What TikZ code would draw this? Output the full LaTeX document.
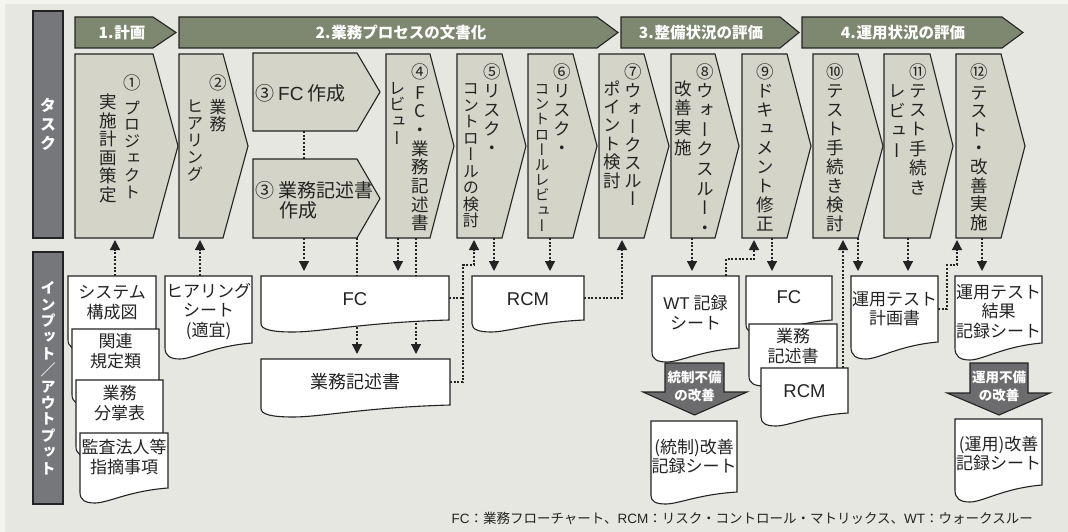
\documentclass[tikz,border=0pt]{standalone}
\usepackage{fontspec}
\setmainfont{Noto Sans CJK JP}
\newfontfamily\jpv[RawFeature=+vert]{Noto Sans CJK JP}
\newfontfamily\lat{Liberation Sans}
\usetikzlibrary{arrows.meta}

\definecolor{bgc}{RGB}{231,231,225}
\definecolor{chevfill}{RGB}{212,212,201}
\definecolor{hdrfill}{RGB}{126,136,112}
\definecolor{barfill}{RGB}{118,119,122}
\definecolor{blkfill}{RGB}{108,108,110}
\definecolor{ink}{RGB}{35,35,35}

\pgfdeclarelayer{back}
\pgfdeclarelayer{conn}
\pgfsetlayers{back,conn,main}

\tikzset{
  outl/.style={draw=ink, line width=1.1pt, line join=miter},
  chevstyle/.style={outl, fill=chevfill},
  docstyle/.style={outl, fill=white},
  hdrstyle/.style={outl, fill=hdrfill},
  barstyle/.style={outl, fill=barfill},
  blkstyle/.style={outl, fill=blkfill},
  box/.style={inner sep=0pt, outer sep=0pt, draw=none},
  doctext/.style={inner sep=0pt, align=center, text=ink, font=\fontsize{17}{19.5}\selectfont},
  vcol/.style={inner sep=0pt, anchor=north, align=center, text=ink},
  hdrtext/.style={text=white, font=\bfseries\fontsize{15.5}{18}\selectfont, inner sep=0pt},
  bartext/.style={barstyle, inner sep=0pt, align=center, text=white},
  blktext/.style={text=white, font=\bfseries\fontsize{13.5}{18}\selectfont, inner sep=0pt, align=center},
  circ/.style={inner sep=0pt, text=ink, font=\fontsize{17.5}{17.5}\selectfont},
  htext/.style={inner sep=0pt, text=ink, font=\fontsize{19}{20}\selectfont, align=left},
  conn/.style={draw=ink, line width=1.2pt, dash pattern=on 2pt off 1.7pt},
  arrd/.style={conn, -{Triangle[width=10pt,length=10pt]}, shorten >=5pt},
  arru/.style={conn, -{Triangle[width=10pt,length=10pt]}, shorten >=2pt},
}

% chevron task box: name L T R B tip
\newcommand\chev[6]{%
  \draw[chevstyle] (#2,#3) -- (#4,#3) -- (#6,{(#3+#5)/2}) -- (#4,#5) -- (#2,#5) -- cycle;
  \node[box, minimum width={#4-#2}, minimum height={#5-#3}, anchor=north west] (#1) at (#2,#3) {};
}
% document shape: name L T R B wave text-y text
\newcommand\docu[8]{%
  \draw[docstyle] (#2,#3) -- (#4,#3) -- (#4,#5)
    .. controls ({#2+0.55*(#4-#2)},{#5+0.2*#6}) and ({#2+0.32*(#4-#2)},{#5+#6}) .. ({#2+0.17*(#4-#2)},{#5+#6})
    .. controls ({#2+0.06*(#4-#2)},{#5+#6}) and (#2,{#5+0.8*#6}) .. (#2,{#5+0.3*#6}) -- cycle;
  \node[box, minimum width={#4-#2}, minimum height={#5-#3}, anchor=north west] (#1) at (#2,#3) {};
  \node[doctext] (#1-t) at ({(#2+#4)/2},#7) {#8};
}
% header arrow: name L R tip T B text-x text
\newcommand\hdr[8]{%
  \draw[hdrstyle] (#2,#5) -- (#3,#5) -- (#4,{(#5+#6)/2}) -- (#3,#6) -- (#2,#6) -- cycle;
  \node[hdrtext] (#1) at (#7,{(#5+#6)/2}) {#8};
}
% vertical column: name x ytop skip chars
\newcommand\vc[5]{%
  \pgfmathsetmacro\vcfs{min(17.5,#4-0.4)}%
  \node[vcol, font=\jpv\fontsize{\vcfs}{#4}\selectfont] (#1) at (#2,#3) {\rule{0pt}{.86em}#5};
}

\begin{document}
\begin{tikzpicture}[x=1pt, y=-1pt]
\useasboundingbox (0,0) rectangle (1068,532);
\begin{pgfonlayer}{back}
\fill[white!55!bgc] (0,0) rectangle (1068,532);
\fill[bgc] (5,4) rectangle (1068,532);
\end{pgfonlayer}

% left bars
\node[bartext, minimum width=30, minimum height=227, font=\jpv\bfseries\fontsize{16}{19}\selectfont] (taskbar) at (48,124.5) {タ\\ス\\ク};
\node[bartext, minimum width=30, minimum height=252, font=\jpv\bfseries\fontsize{15}{16.4}\selectfont] (iobar) at (48,378) {イ\\ン\\プ\\ッ\\ト\\／\\ア\\ウ\\ト\\プ\\ッ\\ト};

% headers
\hdr{h1}{75}{153}{176}{17}{48}{122}{1.\hspace{1pt}計画}
\hdr{h2}{179}{597}{618}{17}{48}{401}{2.\hspace{1pt}業務プロセスの文書化}
\hdr{h3}{621}{780}{799}{17}{48}{701}{3.\hspace{1pt}整備状況の評価}
\hdr{h4}{802}{1002}{1023}{17}{48}{903}{4.\hspace{1pt}運用状況の評価}

% task chevrons
\chev{t1}{75}{54}{153}{238}{178}
\chev{t2}{179}{54}{223}{238}{248}
\chev{t3a}{253}{53}{357}{131}{380}
\chev{t3b}{253}{159}{357}{238}{380}
\chev{t4}{386}{54}{430}{238}{454}
\chev{t5}{457}{54}{502}{238}{526}
\chev{t6}{528}{54}{573}{238}{597}
\chev{t7}{599}{54}{644}{238}{669}
\chev{t8}{671}{54}{715}{238}{739}
\chev{t9}{742}{54}{787}{238}{811}
\chev{t10}{813}{54}{858}{238}{883}
\chev{t11}{884}{54}{930}{238}{953}
\chev{t12}{956}{54}{1001}{238}{1025}

% task texts
\node[circ] (n1) at (132,83) {①};
\vc{v1r}{132}{99.8}{16.8}{プ\\ロ\\ジ\\ェ\\ク\\ト}
\vc{v1l}{108}{93.3}{18.6}{実\\施\\計\\画\\策\\定}
\node[circ] (n2) at (218,83) {②};
\vc{v2r}{218}{98.8}{17.2}{業\\務}
\vc{v2l}{195}{97.8}{17}{ヒ\\ア\\リ\\ン\\グ}
\node[htext, anchor=west] (n3a) at (255,93) {③\hspace{4pt}{\lat FC} 作成};
\node[htext, anchor=north west] (n3b) at (255,180.5) {\rule{0pt}{.86em}③\hspace{4pt}業務記述書\\\phantom{③}\hspace{5pt}作成};
\node[circ] (n4) at (420,72) {④};
\vc{v4r}{420}{83.8}{18.7}{F\\C\\・\\業\\務\\記\\述\\書}
\vc{v4l}{397}{79.8}{16.8}{レ\\ビ\\ュ\\ー}
\node[circ] (n5) at (492,72) {⑤};
\vc{v5r}{492}{81.8}{19}{リ\\ス\\ク\\・}
\vc{v5l}{471}{80.5}{16.5}{コ\\ン\\ト\\ロ\\ー\\ル\\の\\検\\討}
\node[circ] (n6) at (562,72) {⑥};
\vc{v6r}{562}{81.8}{19}{リ\\ス\\ク\\・}
\vc{v6l}{542}{81.5}{15.2}{コ\\ン\\ト\\ロ\\ー\\ル\\レ\\ビ\\ュ\\ー}
\node[circ] (n7) at (633,72) {⑦};
\vc{v7r}{633}{81.8}{18}{ウ\\ォ\\ー\\ク\\ス\\ル\\ー}
\vc{v7l}{612}{79.8}{18.4}{ポ\\イ\\ン\\ト\\検\\討}
\node[circ] (n8) at (705,72) {⑧};
\vc{v8r}{705}{81.8}{19.6}{ウ\\ォ\\ー\\ク\\ス\\ル\\ー\\・}
\vc{v8l}{683}{79.8}{19.7}{改\\善\\実\\施}
\node[circ] (n9) at (765,72) {⑨};
\vc{v9}{765}{81.8}{19}{ド\\キ\\ュ\\メ\\ン\\ト\\修\\正}
\node[circ] (n10) at (835,72) {⑩};
\vc{v10}{835}{81.8}{19}{テ\\ス\\ト\\手\\続\\き\\検\\討}
\node[circ] (n11) at (918,72) {⑪};
\vc{v11r}{918}{81.8}{19.4}{テ\\ス\\ト\\手\\続\\き}
\vc{v11l}{897}{81.8}{20}{レ\\ビ\\ュ\\ー}
\node[circ] (n12) at (979,72) {⑫};
\vc{v12}{979}{83.8}{18.6}{テ\\ス\\ト\\・\\改\\善\\実\\施}

% documents (back to front)
\docu{d1}{68}{276}{156}{335}{15}{302.5}{システム\\構成図}
\docu{d2}{72}{329}{159}{390}{15}{351}{関連\\規定類}
\docu{d3}{76}{380}{163}{442}{15}{403}{業務\\分掌表}
\docu{d4}{80}{433}{168}{488}{15}{457}{監査法人等\\指摘事項}
\docu{dh}{165}{276}{252}{343}{16}{311.5}{ヒアリング\\シート\\(適宜)}
\docu{fc}{261}{276}{449}{320}{12}{299}{\fontsize{18.5}{20}\selectfont\lat FC}
\docu{bk}{261}{359}{450}{405}{12}{382}{\fontsize{18}{20}\selectfont 業務記述書}
\docu{rcm}{472}{276}{584}{320}{12}{299}{\fontsize{18.5}{20}\selectfont\lat RCM}
\docu{wt}{652}{276}{739}{348}{14}{312.5}{{\lat WT} 記録\\シート}
\docu{fc2}{746}{276}{832}{320}{14}{297}{\fontsize{18.5}{20}\selectfont\lat FC}
\docu{bk2}{749}{324}{837}{372}{14}{346}{業務\\記述書}
\docu{rcm2}{761}{368}{848}{413}{13}{391}{\fontsize{18.5}{20}\selectfont\lat RCM}
\docu{op}{851}{276}{938}{342}{17}{309}{運用テスト\\計画書}
\docu{res}{955}{276}{1042}{343}{17}{311.5}{運用テスト\\結果\\記録シート}
\docu{ic}{651}{421}{737}{492}{12}{456.5}{(統制)改善\\記録シート}
\docu{ou}{955}{419}{1042}{485}{17}{453.5}{(運用)改善\\記録シート}

% block arrows
\draw[blkstyle] (665,363) -- (724,363) -- (724,392) -- (747,392) -- (694.5,415) -- (643,392) -- (665,392) -- cycle;
\node[blktext] (b1) at (694.5,386) {統制不備\\の改善};
\draw[blkstyle] (970,363) -- (1028,363) -- (1028,393) -- (1050,393) -- (999,415) -- (947,393) -- (970,393) -- cycle;
\node[blktext] (b2) at (999,386) {運用不備\\の改善};

% connectors
\begin{pgfonlayer}{conn}
\draw[arru] (d1.north -| 115,0) -- (t1.south -| 115,0);
\draw[arru] (dh.north -| 200,0) -- (t2.south -| 200,0);
\draw[arrd] (t3a.south -| 304,0) -- (fc.north -| 304,0);
\draw[arrd] (t3b.south east) -- (bk.north -| t3b.south east);
\draw[arrd] (t4.south -| 398,0) -- (fc.north -| 398,0);
\draw[arrd] (t4.south -| 416,0) -- (bk.north -| 416,0);
\draw[conn] (fc.east) -- (fc.east -| 463,0);
\draw[arru] (bk.east) -| (463,265) -| (t5.south -| 474,0);
\draw[arrd] (t5.south -| 494,0) -- (rcm.north -| 494,0);
\draw[arrd] (t6.south -| 550,0) -- (rcm.north -| 550,0);
\draw[arru] (rcm.east) -| (t7.south -| 622,0);
\draw[arrd] (t8.south -| 692,0) -- (wt.north -| 692,0);
\draw[arru] (wt.north -| 726,0) |- (754,259) -- (t9.south -| 754,0);
\draw[arrd] (t9.south -| 772,0) -- (fc2.north -| 772,0);
\draw[arru] (rcm2.north -| 843,0) -- (t10.south -| 843,0);
\draw[arrd] (t10.south -| 858,0) -- (op.north -| 858,0);
\draw[arrd] (t11.south -| 908,0) -- (op.north -| 908,0);
\draw[arru] (op.east) -| (947,265) -| (t12.south -| 957,0);
\draw[arrd] (t12.south -| 982,0) -- (res.north -| 982,0);
\end{pgfonlayer}

% footnote
\node[anchor=east, inner sep=0pt, text=ink, font=\fontsize{13.5}{15}\selectfont] (note) at (1033,518)
  {{\lat FC}：業務フローチャート、{\lat RCM}：リスク・コントロール・マトリックス、{\lat WT}：ウォークスルー};
\end{tikzpicture}
\end{document}
